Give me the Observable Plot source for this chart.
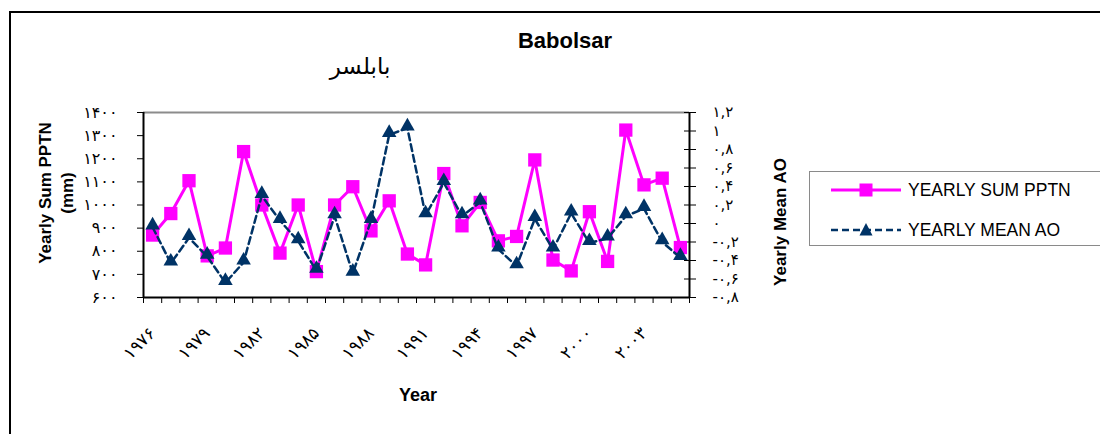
<!DOCTYPE html>
<html>
<head>
<meta charset="utf-8">
<script src="https://cdn.jsdelivr.net/npm/d3@7"></script>
<script src="https://cdn.jsdelivr.net/npm/@observablehq/plot@0.6"></script>
<style>
  html, body { margin: 0; padding: 0; background: #fff; overflow: hidden; }
  #wrap { position: relative; width: 1100px; height: 434px; overflow: hidden; }
  #outer { position: absolute; left: 9px; top: 11px; width: 1200px; height: 600px;
           border-left: 2.5px solid #000; border-top: 2.5px solid #000; }
  #chart { position: absolute; left: 0; top: 0; }
  #labels { position: absolute; left: 0; top: 0; pointer-events: none; }
  #legend { position: absolute; left: 809px; top: 171px; width: 320px; height: 73px;
            border: 1px solid #8a8a8a; background: #fff; }
</style>
</head>
<body>
<div id="wrap">
  <div id="outer"></div>
  <div id="chart"></div>
  <svg id="labels" width="1100" height="434" font-family="Liberation Sans, Arial, sans-serif">
    <text x="565" y="48" text-anchor="middle" font-size="22" font-weight="bold">Babolsar</text>
    <text x="360" y="74" text-anchor="middle" font-size="23" font-family="DejaVu Sans" direction="rtl">بابلسر</text>
    <text x="418" y="401" text-anchor="middle" font-size="18" font-weight="bold">Year</text>
    <text transform="translate(51,193) rotate(-90)" text-anchor="middle" font-size="17" font-weight="bold">Yearly Sum PPTN</text>
    <text transform="translate(73,193) rotate(-90)" text-anchor="middle" font-size="17" font-weight="bold">(mm)</text>
    <text transform="translate(786,222) rotate(-90)" text-anchor="middle" font-size="17" font-weight="bold">Yearly Mean AO</text>
  </svg>
  <div id="legend">
    <svg width="320" height="73" font-family="Liberation Sans, Arial, sans-serif">
      <line x1="21" x2="91" y1="18" y2="18" stroke="#ff00ff" stroke-width="3"></line>
      <rect x="49.5" y="11.5" width="13" height="13" fill="#ff00ff"></rect>
      <text x="98" y="24" font-size="17.5">YEARLY SUM PPTN</text>
      <line x1="21" x2="91" y1="58" y2="58" stroke="#003366" stroke-width="2.5" stroke-dasharray="7,4"></line>
      <path d="M56,51 L62.5,63.5 L49.5,63.5 Z" fill="#003366"></path>
      <text x="98" y="64" font-size="17.5">YEARLY MEAN AO</text>
    </svg>
  </div>
</div>
<script>
// Babolsar: yearly precipitation total (mm) and yearly mean Arctic Oscillation index
const years = [1976, 1977, 1978, 1979, 1980, 1981, 1982, 1983, 1984, 1985,
               1986, 1987, 1988, 1989, 1990, 1991, 1992, 1993, 1994, 1995,
               1996, 1997, 1998, 1999, 2000, 2001, 2002, 2003, 2004, 2005];
const pptn = [870, 963, 1105, 780, 814, 1231, 1000, 792, 1000, 712,
              1000, 1079, 888, 1018, 788, 741, 1136, 910, 1011, 845,
              864, 1195, 762, 715, 971, 756, 1324, 1087, 1116, 816];
const ao = [-0.04, -0.43, -0.155, -0.357, -0.64, -0.42, 0.30, 0.03, -0.19, -0.51,
            0.08, -0.54, 0.03, 0.96, 1.03, 0.09, 0.44, 0.08, 0.23, -0.28,
            -0.46, 0.05, -0.28, 0.11, -0.21, -0.16, 0.08, 0.16, -0.20, -0.37];
const yearLabels = [1976, 1979, 1982, 1985, 1988, 1991, 1994, 1997, 2000, 2003];
const pptnTicks = [600, 700, 800, 900, 1000, 1100, 1200, 1300, 1400];
const aoTicks = [-0.8, -0.6, -0.4, -0.2, 0, 0.2, 0.4, 0.6, 0.8, 1, 1.2];

const pink = "#ff00ff";
const navy = "#003366";

// Persian digits
const toFa = s => String(s).replace(/\d/g, d => "۰۱۲۳۴۵۶۷۸۹"[d]);
// AO (right axis, -0.8..1.2) is mapped onto the precipitation scale (600..1400)
const aoToY = a => 600 + (a + 0.8) * 400;
const yToAo = y => (y - 600) / 400 - 0.8;
const fmtAo = a => toFa(String(Math.round(a * 10) / 10).replace(".", ","));

const rows = years.map((year, i) => ({year, pptn: pptn[i], aoY: aoToY(ao[i])}));
// category boundaries for the x tick marks
const bounds = d3.range(years.length + 1).map(i => years[0] - 0.5 + i);

const chart = Plot.plot({
  width: 1100,
  height: 434,
  marginTop: 112,
  marginBottom: 137,
  marginLeft: 143,
  marginRight: 411,
  x: {domain: [years[0] - 0.5, years[years.length - 1] + 0.5]},
  y: {domain: [600, 1400]},
  style: {fontFamily: "DejaVu Sans", fontSize: "14px", color: "#000", background: "transparent"},
  marks: [
    Plot.ruleY([1400], {stroke: "#8c8c8c", strokeWidth: 2}),
    Plot.ruleY([600], {stroke: "#000", strokeWidth: 2}),
    Plot.ruleX([years[0] - 0.5], {stroke: "#000", strokeWidth: 2}),
    Plot.ruleX([years[years.length - 1] + 0.5], {stroke: "#000", strokeWidth: 2}),
    Plot.axisX({ticks: bounds, tickSize: 6, tickFormat: () => "", label: null, stroke: "#000"}),
    Plot.axisX({ticks: yearLabels, tickSize: 0, tickRotate: -45, tickPadding: 33,
                fontSize: 17, tickFormat: d => toFa(d), label: null}),
    Plot.axisY({ticks: pptnTicks, tickSize: 6, tickPadding: 20, fontSize: 16,
                tickFormat: d => toFa(d), label: null, stroke: "#000"}),
    Plot.axisY({anchor: "right", ticks: aoTicks.map(aoToY), tickSize: 12, dx: -6,
                tickFormat: () => "", label: null, stroke: "#000"}),
    Plot.axisY({anchor: "right", ticks: aoTicks.map(aoToY), tickSize: 6, tickPadding: 17,
                fontSize: 15, tickFormat: y => fmtAo(yToAo(y)), label: null, stroke: "none"}),
    Plot.line(rows, {x: "year", y: "pptn", stroke: pink, strokeWidth: 3}),
    Plot.dot(rows, {x: "year", y: "pptn", symbol: "square", r: 7.5, fill: pink}),
    Plot.line(rows, {x: "year", y: "aoY", stroke: navy, strokeWidth: 2.5, strokeDasharray: "7,4"}),
    Plot.dot(rows, {x: "year", y: "aoY", symbol: "triangle", r: 5.4, fill: navy, dy: -2})
  ]
});
document.getElementById("chart").appendChild(chart);
</script>
</body>
</html>
